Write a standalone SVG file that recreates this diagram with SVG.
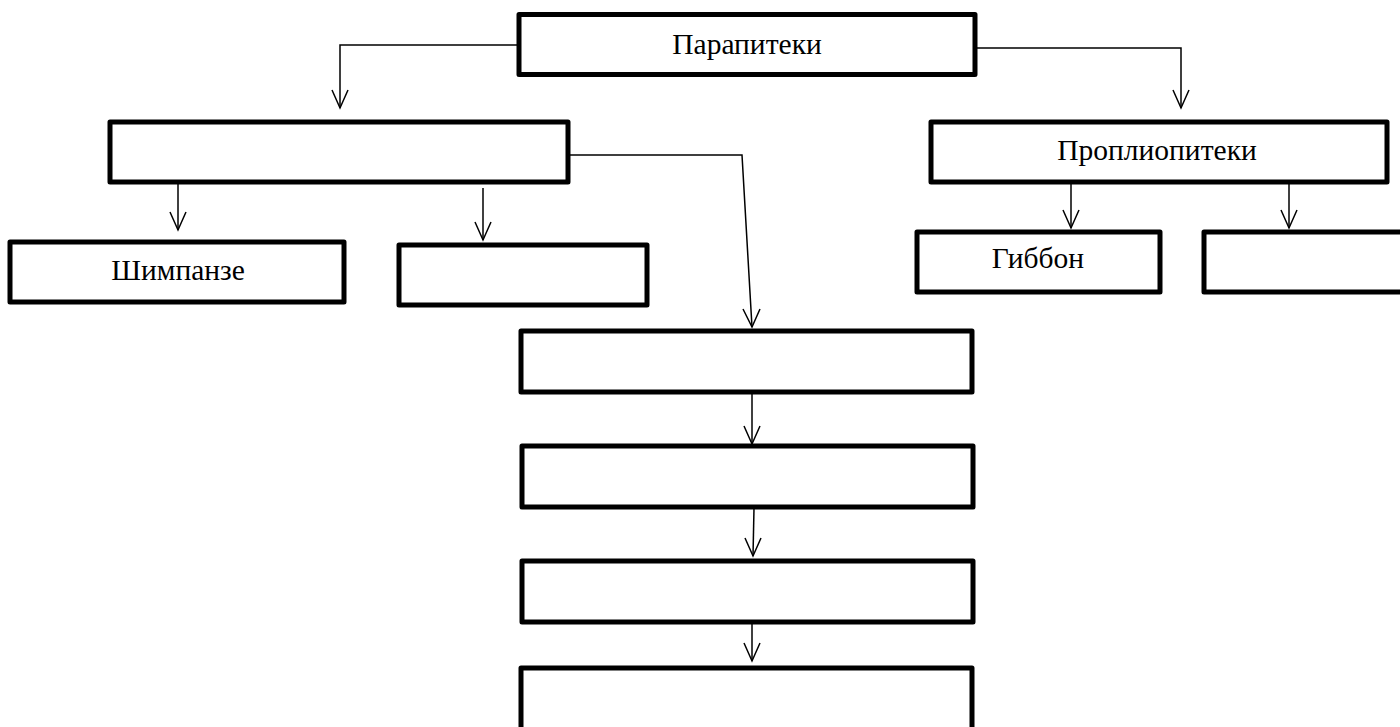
<svg xmlns="http://www.w3.org/2000/svg" width="1400" height="727" viewBox="0 0 1400 727">
<style>
.box{fill:#fff;stroke:#000;stroke-width:5;stroke-linejoin:round}
.lbl{font-family:"Liberation Serif","Times New Roman",serif;font-size:29.5px;fill:#000;text-anchor:middle}
.con{fill:none;stroke:#000;stroke-width:1.5}
.ah{fill:none;stroke:#000;stroke-width:1.5}
</style>
<rect width="1400" height="727" fill="#fff"/>
<g id="connectors">
<polyline class="con" points="517,45 340,45 340,108"/>
<polyline class="ah" points="332,90 340,108 348,90"/>
<polyline class="con" points="977,48 1181,48 1181,108"/>
<polyline class="ah" points="1173,90 1181,108 1189,90"/>
<polyline class="con" points="570,155 742,155 752,327"/>
<polyline class="ah" points="743,309 752,327 760,309"/>
<line class="con" x1="178" y1="184" x2="178" y2="230"/>
<polyline class="ah" points="170,212 178,230 186,212"/>
<line class="con" x1="483" y1="188" x2="483" y2="240"/>
<polyline class="ah" points="475,222 483,240 491,222"/>
<line class="con" x1="1071" y1="184" x2="1071" y2="228"/>
<polyline class="ah" points="1063,210 1071,228 1079,210"/>
<line class="con" x1="1289" y1="184" x2="1289" y2="228"/>
<polyline class="ah" points="1281,210 1289,228 1297,210"/>
<line class="con" x1="752" y1="393" x2="752" y2="444"/>
<polyline class="ah" points="744,426 752,444 760,426"/>
<line class="con" x1="754" y1="508" x2="753" y2="556"/>
<polyline class="ah" points="745,538 753,556 761,538"/>
<line class="con" x1="752" y1="624" x2="752" y2="661"/>
<polyline class="ah" points="744,643 752,661 760,643"/>
</g>
<g id="n-parapiteki"><rect class="box" x="519" y="14.5" width="456" height="60"/><text class="lbl" x="747" y="54">Парапитеки</text></g>
<g id="n-left"><rect class="box" x="110" y="122" width="458" height="60"/></g>
<g id="n-propliopiteki"><rect class="box" x="931" y="122" width="456" height="60"/><text class="lbl" x="1157" y="160">Проплиопитеки</text></g>
<g id="n-chimp"><rect class="box" x="10" y="242" width="334" height="60"/><text class="lbl" x="178" y="280">Шимпанзе</text></g>
<g id="n-empty1"><rect class="box" x="399" y="245" width="248" height="60"/></g>
<g id="n-gibbon"><rect class="box" x="917" y="232" width="243" height="60"/><text class="lbl" x="1038" y="268">Гиббон</text></g>
<g id="n-empty2"><rect class="box" x="1204" y="232" width="210" height="60"/></g>
<g id="n-c1"><rect class="box" x="521" y="331" width="451" height="61"/></g>
<g id="n-c2"><rect class="box" x="522" y="446" width="451" height="61"/></g>
<g id="n-c3"><rect class="box" x="522" y="561" width="451" height="61"/></g>
<g id="n-c4"><rect class="box" x="521" y="668" width="451" height="70"/></g>
</svg>
